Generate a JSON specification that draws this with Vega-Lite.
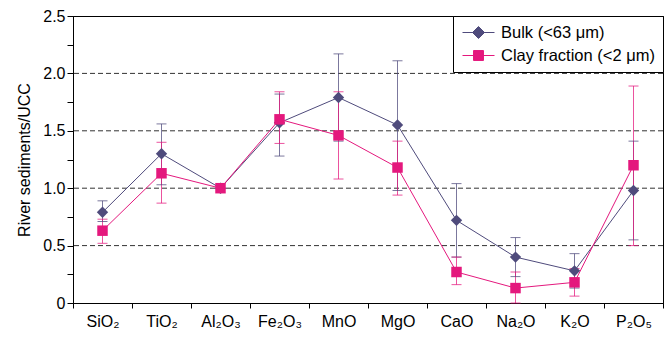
{
  "$schema": "https://vega.github.io/schema/vega-lite/v6.json",
  "width": 590,
  "height": 287,
  "autosize": {"type": "none"},
  "padding": {"left": 73, "top": 16, "right": 7, "bottom": 39},
  "background": "white",
  "config": {
    "font": "Liberation Sans",
    "view": {"stroke": "black", "strokeWidth": 1},
    "axis": {"labelColor": "black", "titleColor": "black", "domainColor": "black", "tickColor": "black", "labelFont": "Liberation Sans", "titleFont": "Liberation Sans"}
  },
  "datasets": {
    "pts": [
      {"cat": "SiO₂", "series": "Bulk (<63 μm)", "v": 0.79, "lo": 0.71, "hi": 0.89},
      {"cat": "TiO₂", "series": "Bulk (<63 μm)", "v": 1.30, "lo": 1.03, "hi": 1.56},
      {"cat": "Al₂O₃", "series": "Bulk (<63 μm)", "v": 1.00, "lo": null, "hi": null},
      {"cat": "Fe₂O₃", "series": "Bulk (<63 μm)", "v": 1.57, "lo": 1.28, "hi": 1.82},
      {"cat": "MnO", "series": "Bulk (<63 μm)", "v": 1.79, "lo": 1.41, "hi": 2.17},
      {"cat": "MgO", "series": "Bulk (<63 μm)", "v": 1.55, "lo": 0.98, "hi": 2.11},
      {"cat": "CaO", "series": "Bulk (<63 μm)", "v": 0.72, "lo": 0.40, "hi": 1.04},
      {"cat": "Na₂O", "series": "Bulk (<63 μm)", "v": 0.40, "lo": 0.23, "hi": 0.57},
      {"cat": "K₂O", "series": "Bulk (<63 μm)", "v": 0.28, "lo": 0.13, "hi": 0.43},
      {"cat": "P₂O₅", "series": "Bulk (<63 μm)", "v": 0.98, "lo": 0.55, "hi": 1.41},
      {"cat": "SiO₂", "series": "Clay fraction (<2 μm)", "v": 0.63, "lo": 0.52, "hi": 0.73},
      {"cat": "TiO₂", "series": "Clay fraction (<2 μm)", "v": 1.13, "lo": 0.87, "hi": 1.40},
      {"cat": "Al₂O₃", "series": "Clay fraction (<2 μm)", "v": 1.00, "lo": null, "hi": null},
      {"cat": "Fe₂O₃", "series": "Clay fraction (<2 μm)", "v": 1.60, "lo": 1.39, "hi": 1.84},
      {"cat": "MnO", "series": "Clay fraction (<2 μm)", "v": 1.46, "lo": 1.08, "hi": 1.84},
      {"cat": "MgO", "series": "Clay fraction (<2 μm)", "v": 1.18, "lo": 0.94, "hi": 1.41},
      {"cat": "CaO", "series": "Clay fraction (<2 μm)", "v": 0.27, "lo": 0.16, "hi": 0.40},
      {"cat": "Na₂O", "series": "Clay fraction (<2 μm)", "v": 0.13, "lo": 0.0, "hi": 0.27},
      {"cat": "K₂O", "series": "Clay fraction (<2 μm)", "v": 0.18, "lo": 0.06, "hi": 0.30},
      {"cat": "P₂O₅", "series": "Clay fraction (<2 μm)", "v": 1.20, "lo": 0.50, "hi": 1.89}
    ],
    "grid": [{"g": 0.5}, {"g": 1.0}, {"g": 1.5}, {"g": 2.0}]
  },
  "layer": [
    {
      "data": {"name": "grid"},
      "mark": {"type": "rule", "color": "#333", "strokeDash": [5, 3], "strokeWidth": 1},
      "encoding": {
        "y": {"field": "g", "type": "quantitative", "scale": {"domain": [0, 2.5], "nice": false}, "axis": {"orient": "right", "title": null, "labels": false, "ticks": false, "domain": true, "grid": false}}
      }
    },
    {
      "data": {"name": "pts"},
      "mark": {"type": "rule", "opacity": 0},
      "encoding": {
        "x": {"field": "cat", "type": "nominal", "sort": null, "axis": {"orient": "top", "title": null, "labels": false, "ticks": false, "domain": true}}
      }
    },
    {
      "data": {"name": "pts"},
      "layer": [
        {
          "mark": {"type": "rule", "strokeWidth": 1, "opacity": 0.75},
          "encoding": {
            "y": {"field": "lo", "type": "quantitative"},
            "y2": {"field": "hi"}
          }
        },
        {
          "mark": {"type": "tick", "orient": "horizontal", "size": 10, "thickness": 1, "opacity": 0.75},
          "encoding": {
            "y": {"field": "lo", "type": "quantitative"}
          }
        },
        {
          "mark": {"type": "tick", "orient": "horizontal", "size": 10, "thickness": 1, "opacity": 0.75},
          "encoding": {
            "y": {"field": "hi", "type": "quantitative"}
          }
        },
        {
          "mark": {"type": "line", "strokeWidth": 1},
          "encoding": {
            "y": {"field": "v", "type": "quantitative"}
          }
        },
        {
          "transform": [{"filter": "datum.series == 'Bulk (<63 μm)'"}],
          "mark": {"type": "point", "filled": true, "opacity": 1, "size": 130, "shape": "diamond"},
          "encoding": {
            "y": {"field": "v", "type": "quantitative"}
          }
        },
        {
          "transform": [{"filter": "datum.series == 'Clay fraction (<2 μm)'"}],
          "mark": {"type": "point", "filled": true, "opacity": 1, "size": 110, "shape": "square"},
          "encoding": {
            "y": {"field": "v", "type": "quantitative"}
          }
        }
      ],
      "encoding": {
        "x": {
          "field": "cat", "type": "nominal", "sort": null,
          "scale": {"domain": ["SiO₂", "TiO₂", "Al₂O₃", "Fe₂O₃", "MnO", "MgO", "CaO", "Na₂O", "K₂O", "P₂O₅"], "paddingInner": 0, "paddingOuter": 0},
          "axis": {"orient": "bottom", "title": null, "labelAngle": 0, "labelFontSize": 16, "tickBand": "extent", "tickSize": 5, "labelPadding": 5, "domainWidth": 1}
        },
        "y": {
          "type": "quantitative",
          "axis": {"orient": "left", "title": "River sediments/UCC", "titleFontSize": 16, "titleFontWeight": "normal", "labelFontSize": 16, "grid": false, "values": [0, 0.25, 0.5, 0.75, 1, 1.25, 1.5, 1.75, 2, 2.25, 2.5], "labelExpr": "datum.value * 2 % 1 != 0 ? '' : (datum.value == 0 ? '0' : format(datum.value, '.1f'))", "tickSize": 6, "labelPadding": 2, "titlePadding": 10}
        },
        "color": {
          "field": "series", "type": "nominal",
          "scale": {"domain": ["Bulk (<63 μm)", "Clay fraction (<2 μm)"], "range": ["#4f4b7c", "#e4187d"]},
          "legend": {
            "title": null,
            "orient": "top-right",
            "offset": 0,
            "strokeColor": "black",
            "fillColor": "white",
            "padding": 8,
            "labelFontSize": 16.5,
            "labelColor": "black",
            "labelFont": "Liberation Sans",
            "symbolSize": 256,
            "symbolOffset": 9,
            "symbolStrokeWidth": 1,
            "rowPadding": 6,
            "labelOffset": 14,
            "labelLimit": 300,
            "encode": {
              "symbols": {
                "update": {
                  "shape": {"signal": "datum.value == 'Bulk (<63 μm)' ? 'M-2,0L2,0M0,-0.75L0.75,0L0,0.75L-0.75,0Z' : 'M-2,0L2,0M-0.62,-0.62L0.62,-0.62L0.62,0.62L-0.62,0.62Z'"},
                  "strokeWidth": {"value": 1}
                }
              }
            }
          }
        }
      }
    }
  ],
  "resolve": {"axis": {"x": "independent", "y": "independent"}}
}
